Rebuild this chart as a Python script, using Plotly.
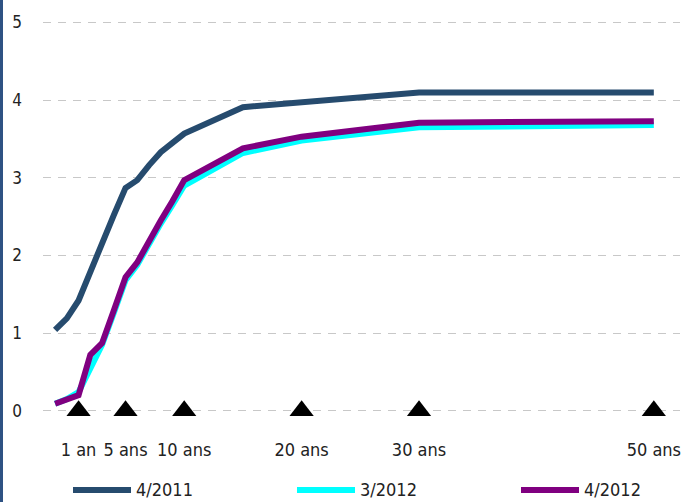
import plotly.graph_objects as go

# ---- data ----
maturity_years = [-1, 0, 1, 2, 3, 4, 5, 6, 7, 8, 9, 10, 15, 20, 30, 50]
curve_2011_04 = [1.04, 1.19, 1.42, 1.80, 2.16, 2.52, 2.87, 2.97, 3.16, 3.33, 3.45, 3.57, 3.91, 3.97, 4.10, 4.10]
curve_2012_03 = [0.09, 0.15, 0.24, 0.55, 0.85, 1.26, 1.68, 1.88, 2.16, 2.41, 2.65, 2.90, 3.32, 3.48, 3.65, 3.68]
curve_2012_04 = [0.09, 0.15, 0.20, 0.72, 0.87, 1.29, 1.72, 1.91, 2.20, 2.45, 2.70, 2.97, 3.38, 3.53, 3.71, 3.73]
series_names = ["4/2011", "3/2012", "4/2012"]
series_colors = ["#264B6E", "#00FFFF", "#800080"]

marker_years = [1, 5, 10, 20, 30, 50]
marker_values = [0, 0, 0, 0, 0, 0]
marker_labels = ["1 an", "5 ans", "10 ans", "20 ans", "30 ans", "50 ans"]

y_ticks = [0, 1, 2, 3, 4, 5]

FONT = "DejaVu Sans Condensed, Liberation Sans Narrow, Arial Narrow, sans-serif"
W, H = 683, 502
ML, MR, MT, MB = 43, 3, 7, 68

fig = go.Figure()
for name, vals, col in zip(series_names, [curve_2011_04, curve_2012_03, curve_2012_04], series_colors):
    fig.add_trace(go.Scatter(x=maturity_years, y=vals, mode="lines", name=name,
                             line=dict(color=col, width=6), showlegend=False))

fig.add_trace(go.Scatter(x=marker_years, y=marker_values, mode="markers",
                         marker=dict(symbol="triangle-up", size=21, color="black"),
                         cliponaxis=False, showlegend=False, hoverinfo="skip"))

pw = W - ML - MR
ph = H - MT - MB


def px_x(p):
    return (p - ML) / pw


def px_y(p):
    return (H - MB - p) / ph


shapes = [dict(type="line", xref="paper", yref="paper",
               x0=px_x(1.5), x1=px_x(1.5), y0=px_y(H), y1=px_y(0),
               line=dict(color="#2E5283", width=3))]
annotations = []
legend_starts = [73, 297, 521]
for name, col, x0 in zip(series_names, series_colors, legend_starts):
    shapes.append(dict(type="line", xref="paper", yref="paper",
                       x0=px_x(x0), x1=px_x(x0 + 58), y0=px_y(490), y1=px_y(490),
                       line=dict(color=col, width=6)))
    annotations.append(dict(xref="paper", yref="paper", x=px_x(x0 + 61), y=px_y(490),
                            text=name, showarrow=False, xanchor="left", yanchor="middle",
                            font=dict(family=FONT, size=18, color="#222222")))

fig.update_layout(
    width=W, height=H,
    margin=dict(l=ML, r=MR, t=MT, b=MB),
    paper_bgcolor="white", plot_bgcolor="white",
    showlegend=False,
    shapes=shapes, annotations=annotations,
    xaxis=dict(range=[-2.03, 52.23], tickvals=marker_years, ticktext=marker_labels,
               showgrid=False, zeroline=False, showline=False, ticks="",
               tickangle=0, automargin=False,
               ticklabelstandoff=3,
               tickfont=dict(family=FONT, size=18, color="#222222")),
    yaxis=dict(range=[-0.3, 5.2], tickvals=y_ticks, showgrid=True,
               gridcolor="#C8C8C8", griddash="8px,7px", gridwidth=1,
               zeroline=False, showline=False, ticks="", automargin=False,
               ticklabelstandoff=20,
               tickfont=dict(family=FONT, size=17, color="#222222")),
)

fig.write_html("out.html", config={"displayModeBar": False},
               post_script="document.body.style.margin='0';")
